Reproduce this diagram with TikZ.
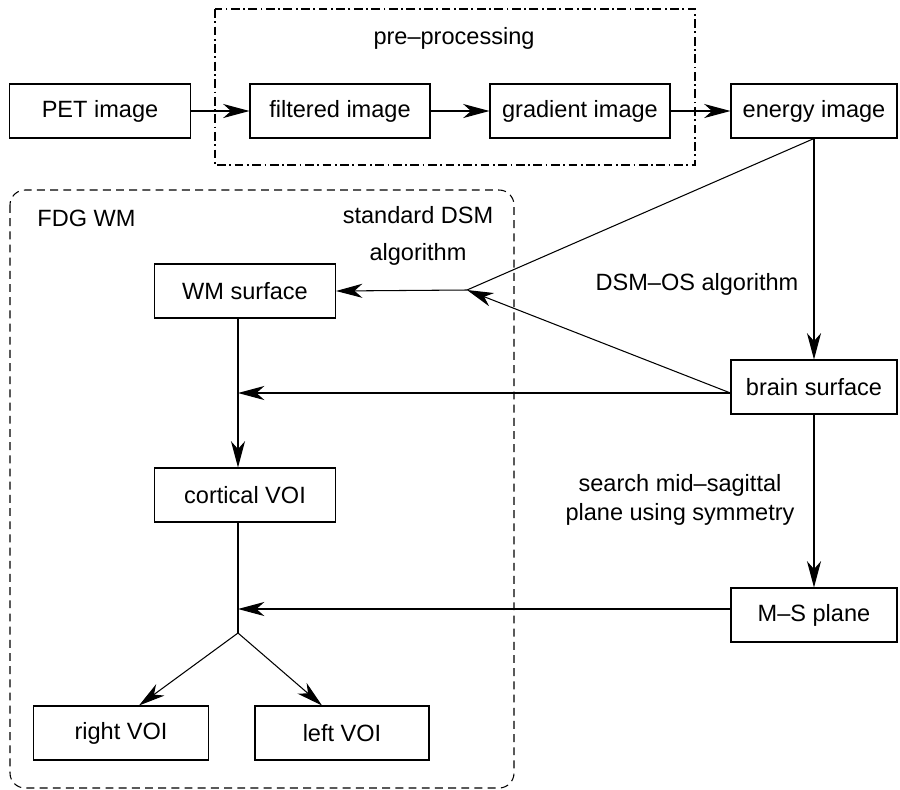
\documentclass[tikz,border=0pt]{standalone}
\usepackage{fontspec}
\setmainfont{Liberation Sans}
\usepackage{tikz}
\usetikzlibrary{arrows.meta}

\begin{document}
\begin{tikzpicture}[
  x=0.02cm, y=-0.02cm,
  line width=0.6pt,
  txt/.style={font=\fontsize{13.4}{16.5}\selectfont},
  procbox/.style={txt, draw, rectangle, inner sep=0pt, minimum height=1.08cm, minimum width=3.6cm},
  flow/.style={-{Stealth[length=15pt, width=8pt, inset=4.5pt]}},
  prepframe/.style={dash pattern=on 5pt off 2pt on 1pt off 2pt},
  wmframe/.style={dash pattern=on 4.5pt off 3pt, rounded corners=0.3cm},
]
\useasboundingbox (0,0) rectangle (900,789);

% processing steps (x, y in pixel units of the layout)
\foreach \nm/\x/\y/\bw/\txt in {%
  pet/100/111/3.62/{PET image},
  filt/340/111/3.6/{filtered image},
  grad/580/111/3.6/{gradient image},
  energy/814/111/3.32/{energy image},
  wms/245/291/3.62/{WM surface},
  brain/814/387/3.32/{brain surface},
  cort/245/495/3.62/{cortical VOI},
  ms/814/615/3.32/{M–S plane},
  rvoi/121/733/3.5/{right VOI},
  lvoi/342/733/3.48/{left VOI}%
} {
  \node[procbox, minimum width=\bw cm] (\nm) at (\x,\y) {\txt};
}

% group frames
\draw[prepframe] (215,9) rectangle (695,165);
\draw[wmframe] (10,190) rectangle (514,788);
\node[txt] (preplbl) at (454,38) {pre–processing};
\node[txt, anchor=west] (wmlbl) at (31,218) {FDG WM};

% junction points
\coordinate (split) at (467,290);
\coordinate (mid1) at (238,393);
\coordinate (mid2) at (238,609);
\coordinate (fork) at (238,633);

% pre-processing chain
\draw[flow] (pet) -- (filt);
\draw[flow] (filt) -- (grad);
\draw[flow] (grad) -- (energy);

% surfaces
\draw (energy.south) -- (split);
\draw[flow] (split) -- (wms.east);
\draw[flow] (brain.west |- mid1) -- (split);
\draw[flow] (energy.south) -- (brain.north);
\draw[flow] (brain.west |- mid1) -- (mid1);
\draw[flow] (wms.south -| mid1) -- (cort.north -| mid1);

% symmetry plane and hemispheres
\draw[flow] (brain.south) -- (ms.north);
\draw[flow] (ms.west |- mid2) -- (mid2);
\draw (cort.south -| fork) -- (fork);
\draw[flow] (fork) -- ([xshift=0.36cm]rvoi.north);
\draw[flow] (fork) -- ([xshift=-0.4cm]lvoi.north);

% algorithm labels
\node[txt, align=center] (stdlbl) at (418,236) {standard DSM\\[5pt]algorithm};
\node[txt] (oslbl) at (697,284) {DSM–OS algorithm};
\node[txt, align=center] (symlbl) at (680,500) {search mid–sagittal\\plane using symmetry};
\end{tikzpicture}
\end{document}
